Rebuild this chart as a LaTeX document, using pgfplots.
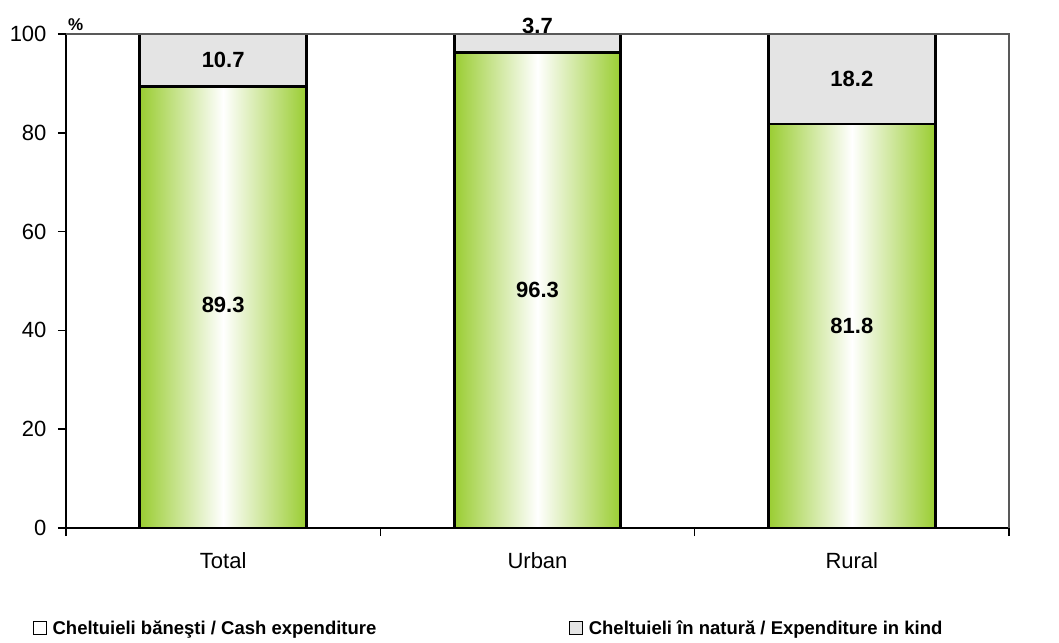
\documentclass[border=0pt]{standalone}
\usepackage{fontspec}
\setmainfont{Liberation Sans}
\usepackage{pgfplots}
\pgfplotsset{compat=1.18}
\definecolor{barG}{HTML}{9ACD32}
\definecolor{kindG}{HTML}{E4E4E4}
\begin{document}
\begin{tikzpicture}
\useasboundingbox (-66pt,-114pt) rectangle (993pt,528pt);
\begin{axis}[
  scale only axis, width=943pt, height=494pt,
  xmin=-0.5, xmax=2.5, ymin=0, ymax=100,
  clip=false,
  axis lines*=left,
  axis line style={line width=1.8pt, black},
  tick style={line width=1.5pt, black},
  tick align=outside, major tick length=8pt,
  ytick={0,20,40,60,80,100},
  xtick={-0.5,0.5,1.5,2.5}, xticklabels={},
  extra x ticks={0,1,2}, extra x tick labels={Total,Urban,Rural},
  extra x tick style={major tick length=0pt, xticklabel style={yshift=-21pt}},
  /pgf/number format/assume math mode=true,
  ticklabel style={font=\fontsize{22}{26}\selectfont},
  yticklabel style={xshift=-8pt},
  legend style={at={(-0.035,-0.2024)}, anchor=west, draw=none, fill=none,
    font=\bfseries\fontsize{18.5}{22}\selectfont,
    /tikz/every even column/.append style={column sep=191pt},
    inner sep=0pt},
  legend columns=2,
  legend cell align=left,
  legend image code/.code={\draw[#1] (0pt,-6.5pt) rectangle (13pt,6.5pt); \path[draw=none, fill=none] (0pt,0pt) -- (17pt,0pt);},
  after end axis/.code={\draw[gray!70!black, line width=1.3pt] (rel axis cs:0,1) -- (rel axis cs:1,1) -- (rel axis cs:1,0);},
]
\addplot[ybar, bar width=0.53, bar shift=0pt, fill=kindG, draw=black, line width=2.8pt, forget plot]
  coordinates {(0,100) (1,100) (2,100)};
\addplot[ybar, bar width=0.53, bar shift=0pt, draw=black, line width=2.8pt, left color=barG, right color=barG, middle color=white, forget plot]
  coordinates {(0,89.3)};
\addplot[ybar, bar width=0.53, bar shift=0pt, draw=black, line width=2.8pt, left color=barG, right color=barG, middle color=white, forget plot]
  coordinates {(1,96.3)};
\addplot[ybar, bar width=0.53, bar shift=0pt, draw=black, line width=2.8pt, left color=barG, right color=barG, middle color=white, forget plot]
  coordinates {(2,81.8)};
\addplot[only marks, mark=text, text mark={}, point meta=explicit symbolic,
  nodes near coords, every node near coord/.append style={anchor=center, text=black, font=\bfseries\fontsize{22}{26}\selectfont}, forget plot]
  coordinates {(0,45.1)[89.3] (0,94.65)[10.7] (1,48.15)[96.3] (1,101.6)[3.7] (2,40.9)[81.8] (2,90.9)[18.2]};
\addlegendimage{fill=white, draw=black, line width=0.8pt}
\addlegendentry{Cheltuieli băneşti / Cash expenditure}
\addlegendimage{fill=kindG, draw=black, line width=0.8pt}
\addlegendentry{Cheltuieli în natură / Expenditure in kind}
\node[anchor=south west, font=\bfseries\fontsize{17}{20}\selectfont, inner sep=0pt] at (rel axis cs:0,1) [xshift=2pt, yshift=3pt] {\%};
\end{axis}
\end{tikzpicture}
\end{document}
